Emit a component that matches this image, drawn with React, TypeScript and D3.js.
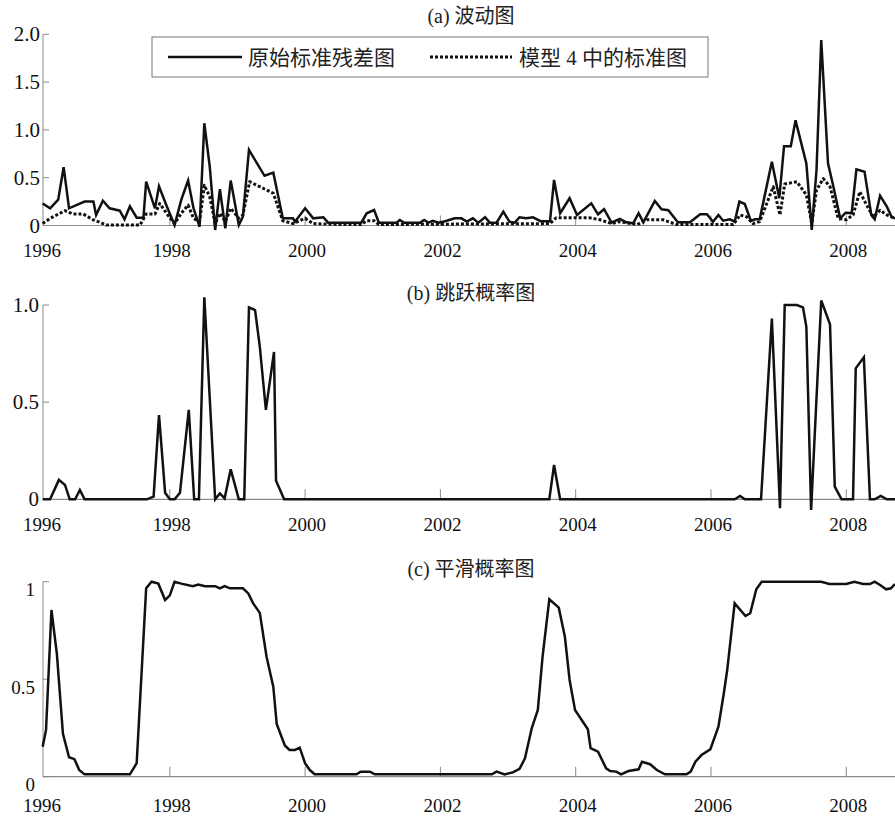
import React from 'react';
import * as d3 from 'd3';

// x values are decimal years (monthly data, Feb 1996 onwards)
const xStart = 1996.125;
const xEnd = 2008.75;
const yearTicks = [1996, 1998, 2000, 2002, 2004, 2006, 2008];

// (a) 波动图
const residualSeries: [number, number][] = [
  [1996.12, 0.23], [1996.23, 0.18], [1996.35, 0.27], [1996.43, 0.61], [1996.51, 0.18],
  [1996.74, 0.25], [1996.87, 0.25], [1996.91, 0.11], [1997.01, 0.26], [1997.11, 0.18],
  [1997.26, 0.155], [1997.33, 0.065], [1997.41, 0.2], [1997.51, 0.082], [1997.61, 0.082],
  [1997.65, 0.46], [1997.78, 0.18], [1997.84, 0.41], [1997.95, 0.21], [1998.07, 0.005],
  [1998.17, 0.27], [1998.27, 0.47], [1998.35, 0.18], [1998.44, -0.013], [1998.51, 1.07],
  [1998.59, 0.615], [1998.67, -0.047], [1998.74, 0.38], [1998.82, -0.03], [1998.9, 0.47],
  [1999.02, 0.005], [1999.08, 0.092], [1999.17, 0.79], [1999.4, 0.52], [1999.53, 0.553],
  [1999.67, 0.075], [1999.82, 0.075], [1999.85, 0.04], [2000.0, 0.18], [2000.12, 0.075],
  [2000.27, 0.086], [2000.34, 0.03], [2000.83, 0.03], [2000.91, 0.128], [2001.02, 0.162],
  [2001.09, 0.03], [2001.35, 0.03], [2001.4, 0.058], [2001.46, 0.03], [2001.7, 0.03],
  [2001.76, 0.058], [2001.82, 0.03], [2001.89, 0.05], [2001.97, 0.03], [2002.07, 0.045],
  [2002.21, 0.075], [2002.31, 0.075], [2002.39, 0.04], [2002.48, 0.075], [2002.56, 0.03],
  [2002.66, 0.086], [2002.73, 0.03], [2002.83, 0.03], [2002.93, 0.145], [2003.02, 0.04],
  [2003.1, 0.03], [2003.17, 0.086], [2003.27, 0.075], [2003.37, 0.086], [2003.48, 0.045],
  [2003.62, 0.045], [2003.68, 0.476], [2003.77, 0.128], [2003.91, 0.285], [2004.02, 0.11],
  [2004.23, 0.232], [2004.33, 0.117], [2004.42, 0.17], [2004.53, 0.03], [2004.65, 0.07],
  [2004.75, 0.033], [2004.85, 0.023], [2004.93, 0.128], [2005.0, 0.033], [2005.17, 0.256],
  [2005.27, 0.17], [2005.37, 0.16], [2005.51, 0.033], [2005.69, 0.033], [2005.84, 0.117],
  [2005.94, 0.117], [2006.03, 0.04], [2006.11, 0.11], [2006.18, 0.05], [2006.28, 0.065],
  [2006.35, 0.04], [2006.42, 0.25], [2006.5, 0.225], [2006.59, 0.047], [2006.65, 0.065],
  [2006.72, 0.065], [2006.9, 0.667], [2007.01, 0.285], [2007.08, 0.83], [2007.18, 0.83],
  [2007.25, 1.1], [2007.41, 0.65], [2007.49, -0.047], [2007.56, 0.58], [2007.63, 1.94],
  [2007.73, 0.65], [2007.81, 0.406], [2007.91, 0.075], [2007.99, 0.134], [2008.08, 0.13],
  [2008.15, 0.588], [2008.27, 0.563], [2008.37, 0.11], [2008.42, 0.065], [2008.5, 0.312],
  [2008.6, 0.197], [2008.67, 0.09], [2008.72, 0.075],
];

const model4Series: [number, number][] = [
  [1996.12, 0.02], [1996.23, 0.075], [1996.45, 0.155], [1996.57, 0.12], [1996.72, 0.12],
  [1996.87, 0.058], [1996.94, 0.04], [1997.06, 0.005], [1997.56, 0.005], [1997.65, 0.12],
  [1997.78, 0.12], [1997.85, 0.23], [1997.97, 0.11], [1998.07, 0.02], [1998.17, 0.128],
  [1998.27, 0.214], [1998.35, 0.075], [1998.44, 0.04], [1998.51, 0.42], [1998.59, 0.3],
  [1998.67, 0.02], [1998.74, 0.128], [1998.82, 0.04], [1998.9, 0.18], [1999.02, 0.075],
  [1999.08, 0.11], [1999.18, 0.458], [1999.33, 0.406], [1999.53, 0.337], [1999.67, 0.05],
  [1999.82, 0.02], [2000.0, 0.075], [2000.12, 0.02], [2000.51, 0.01], [2000.83, 0.01],
  [2000.91, 0.05], [2001.02, 0.05], [2001.09, 0.01], [2003.62, 0.02], [2003.71, 0.08],
  [2003.99, 0.08], [2004.21, 0.08], [2004.36, 0.06], [2004.53, 0.02], [2004.65, 0.04],
  [2004.91, 0.01], [2005.05, 0.06], [2005.29, 0.06], [2005.49, 0.01], [2006.33, 0.01],
  [2006.43, 0.11], [2006.53, 0.09], [2006.62, 0.02], [2006.72, 0.04], [2006.92, 0.406],
  [2007.02, 0.11], [2007.09, 0.434], [2007.27, 0.458], [2007.41, 0.32], [2007.49, 0.02],
  [2007.56, 0.37], [2007.66, 0.49], [2007.76, 0.406], [2007.88, 0.075], [2008.0, 0.06],
  [2008.1, 0.11], [2008.2, 0.354], [2008.3, 0.214], [2008.4, 0.09], [2008.5, 0.16],
  [2008.6, 0.11], [2008.72, 0.075],
];

// (b) 跳跃概率图
const jumpProbSeries: [number, number][] = [
  [1996.12, 0], [1996.23, 0], [1996.36, 0.1], [1996.45, 0.074], [1996.52, 0], [1996.6, 0],
  [1996.67, 0.048], [1996.74, 0], [1997.66, 0], [1997.76, 0.014], [1997.84, 0.434],
  [1997.93, 0.034], [1998.0, 0], [1998.07, 0], [1998.15, 0.034], [1998.28, 0.46],
  [1998.36, 0], [1998.43, 0], [1998.51, 1.04], [1998.67, 0], [1998.74, 0.03], [1998.81, 0.005],
  [1998.9, 0.154], [1999.02, 0], [1999.1, 0], [1999.17, 0.988], [1999.26, 0.974],
  [1999.33, 0.786], [1999.42, 0.46], [1999.54, 0.758], [1999.57, 0.096], [1999.69, 0],
  [2003.61, 0], [2003.68, 0.177], [2003.77, 0], [2006.35, 0], [2006.43, 0.017], [2006.5, 0],
  [2006.74, 0], [2006.9, 0.93], [2007.02, -0.046], [2007.09, 1.0], [2007.27, 1.0],
  [2007.36, 0.988], [2007.41, 0.888], [2007.48, -0.055], [2007.63, 1.023], [2007.76, 0.9],
  [2007.83, 0.065], [2007.93, 0], [2008.1, 0], [2008.14, 0.674], [2008.26, 0.731],
  [2008.35, 0], [2008.42, 0], [2008.51, 0.017], [2008.6, 0], [2008.72, 0],
];

// (c) 平滑概率图
const smoothProbSeries: [number, number][] = [
  [1996.12, 0.154], [1996.17, 0.24], [1996.25, 0.855], [1996.33, 0.63], [1996.42, 0.22],
  [1996.51, 0.1], [1996.59, 0.09], [1996.66, 0.035], [1996.74, 0.012], [1997.41, 0.012],
  [1997.51, 0.07], [1997.65, 0.966], [1997.73, 1.0], [1997.83, 0.99], [1997.93, 0.906],
  [1998.0, 0.93], [1998.07, 1.0], [1998.17, 0.99], [1998.34, 0.977], [1998.42, 0.985],
  [1998.52, 0.977], [1998.67, 0.977], [1998.74, 0.966], [1998.81, 0.977], [1998.89, 0.966],
  [1999.08, 0.966], [1999.16, 0.94], [1999.23, 0.89], [1999.33, 0.84], [1999.43, 0.615],
  [1999.53, 0.46], [1999.58, 0.27], [1999.7, 0.16], [1999.77, 0.137], [1999.85, 0.137],
  [1999.92, 0.149], [2000.0, 0.068], [2000.07, 0.034], [2000.14, 0.013], [2000.76, 0.012],
  [2000.82, 0.026], [2000.96, 0.026], [2001.03, 0.012], [2002.76, 0.012], [2002.83, 0.026],
  [2002.95, 0.012], [2003.07, 0.022], [2003.17, 0.04], [2003.25, 0.094], [2003.35, 0.248],
  [2003.44, 0.342], [2003.51, 0.615], [2003.61, 0.91], [2003.75, 0.867], [2003.84, 0.718],
  [2003.91, 0.496], [2003.99, 0.342], [2004.18, 0.243], [2004.22, 0.146], [2004.33, 0.128],
  [2004.45, 0.043], [2004.51, 0.029], [2004.6, 0.026], [2004.67, 0.012], [2004.78, 0.029],
  [2004.93, 0.038], [2004.98, 0.077], [2005.1, 0.064], [2005.2, 0.034], [2005.32, 0.012],
  [2005.64, 0.012], [2005.7, 0.026], [2005.77, 0.077], [2005.86, 0.111], [2005.99, 0.14],
  [2006.11, 0.256], [2006.19, 0.428], [2006.24, 0.547], [2006.35, 0.889], [2006.51, 0.824],
  [2006.58, 0.838], [2006.67, 0.961], [2006.75, 1.0], [2007.63, 1.0], [2007.75, 0.988],
  [2008.0, 0.988], [2008.12, 1.0], [2008.25, 0.988], [2008.35, 0.988], [2008.42, 1.0],
  [2008.5, 0.983], [2008.59, 0.961], [2008.66, 0.966], [2008.72, 0.988],
];

const aTicks = [0, 0.5, 1.0, 1.5, 2.0];
const aTickLabels = ['0', '0.5', '1.0', '1.5', '2.0'];
const bTicks = [0, 0.5, 1.0];
const bTickLabels = ['0', '0.5', '1.0'];
const cTicks = [0, 0.5, 1];
const cTickLabels = ['0', '0.5', '1'];

const legendLabels = ['原始标准残差图', '模型 4 中的标准图'];
const titles = ['(a) 波动图', '(b) 跳跃概率图', '(c) 平滑概率图'];

const W = 895;
const H = 816;
const left = 43;
const right = 897;
const serif = "'Liberation Serif', 'Times New Roman', 'Noto Sans CJK SC', serif";
const axisColor = '#8a8a8a';

const x = d3.scaleLinear().domain([xStart, xEnd]).range([left, right]);

type PanelProps = {
  y: d3.ScaleLinear<number, number>;
  ticks: number[];
  tickLabels: string[];
  labelSize: number;
  labelDy: number;
  labelX: number;
  xLabelGap: number;
  title: string;
  titleY: number;
  children?: React.ReactNode;
};

const txt = (size: number) => ({ fontFamily: serif, fontSize: size });

function Panel({ y, ticks, tickLabels, labelSize, labelDy, labelX, xLabelGap, title, titleY, children }: PanelProps) {
  const [y0, y1] = [y(ticks[0]), y(ticks[ticks.length - 1])];
  return (
    <g>
      <text x={471} y={titleY} textAnchor="middle" style={txt(20)} fill="#222">{title}</text>
      <line x1={left} x2={left} y1={y1} y2={y0} stroke={axisColor} strokeWidth={1} />
      <line x1={left} x2={W + 5} y1={y0} y2={y0} stroke={axisColor} strokeWidth={1.2} />
      {ticks.map((t, i) => (
        <g key={t}>
          <line x1={left} x2={left + 6} y1={y(t)} y2={y(t)} stroke={axisColor} />
          <text x={labelX} y={y(t) + labelDy} textAnchor="end" dominantBaseline="central"
            style={txt(labelSize)} fill="#111">{tickLabels[i]}</text>
        </g>
      ))}
      {yearTicks.map(yr => {
        const px = x(Math.max(yr, xStart));
        return (
          <g key={yr}>
            {yr > xStart && <line x1={px} x2={px} y1={y0} y2={y0 - 10} stroke={axisColor} />}
            <text x={yr > xStart ? px + 2 : px - 1} y={y0 + xLabelGap} textAnchor="middle"
              style={txt(19)} fill="#111">{yr}</text>
          </g>
        );
      })}
      {children}
    </g>
  );
}

export default function App() {
  const yA = d3.scaleLinear().domain([0, 2]).range([225.5, 34.3]);
  const yB = d3.scaleLinear().domain([0, 1]).range([499.3, 305]);
  const yC = d3.scaleLinear().domain([0, 1]).range([776.7, 581.7]);

  const lineA = d3.line<[number, number]>().x(d => x(d[0])).y(d => yA(d[1]));
  const lineB = d3.line<[number, number]>().x(d => x(d[0])).y(d => yB(d[1]));
  const lineC = d3.line<[number, number]>().x(d => x(d[0])).y(d => yC(d[1]));

  return (
    <svg width={W} height={H} style={{ position: 'absolute', left: 0, top: 0, background: '#fff' }}>
      <rect width={W} height={H} fill="#fff" />

      <Panel y={yA} ticks={aTicks} tickLabels={aTickLabels} labelSize={21} labelDy={0} labelX={40}
        xLabelGap={31} title={titles[0]} titleY={23}>
        <path d={lineA(model4Series) || ''} fill="none" stroke="#111" strokeWidth={3}
          strokeDasharray="3 2" strokeLinejoin="round" />
        <path d={lineA(residualSeries) || ''} fill="none" stroke="#111" strokeWidth={2.5}
          strokeLinejoin="miter" />
        <rect x={152} y={37} width={556} height={40} fill="#fff" stroke="#777" strokeWidth={1} />
        <line x1={168} x2={242} y1={57} y2={57} stroke="#111" strokeWidth={2.5} />
        <text x={248} y={65} style={txt(21)} fill="#222">{legendLabels[0]}</text>
        <line x1={430} x2={512} y1={57} y2={57} stroke="#111" strokeWidth={3} strokeDasharray="3 2" />
        <text x={519} y={65} style={txt(21)} fill="#222">{legendLabels[1]}</text>
      </Panel>

      <Panel y={yB} ticks={bTicks} tickLabels={bTickLabels} labelSize={21} labelDy={0} labelX={39}
        xLabelGap={32} title={titles[1]} titleY={300}>
        <path d={lineB(jumpProbSeries) || ''} fill="none" stroke="#111" strokeWidth={2.5} />
      </Panel>

      <Panel y={yC} ticks={cTicks} tickLabels={cTickLabels} labelSize={19} labelDy={8} labelX={35}
        xLabelGap={35} title={titles[2]} titleY={576}>
        <path d={lineC(smoothProbSeries) || ''} fill="none" stroke="#111" strokeWidth={2.5} />
      </Panel>
    </svg>
  );
}
